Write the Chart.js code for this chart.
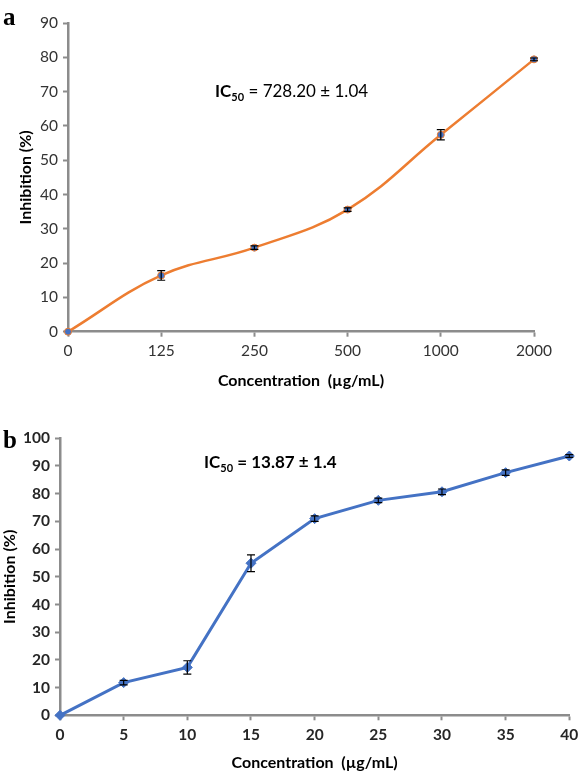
<!DOCTYPE html>
<html>
<head>
<meta charset="utf-8">
<script src="https://cdn.jsdelivr.net/npm/chart.js@4.4.1/dist/chart.umd.min.js"></script>
<style>
  html, body { margin: 0; padding: 0; background: #fff; }
  body { width: 584px; height: 774px; position: relative; overflow: hidden; }
  .box { position: absolute; left: 0; width: 584px; }
  .panel { position: absolute; font-family: "Liberation Serif", serif; font-weight: bold; font-size: 25px; color: #000; line-height: 1; }
  .ic50 { position: absolute; font-family: Lato, "Open Sans", sans-serif; font-size: 17px; color: #000; white-space: nowrap; line-height: 1; }
  .ic50 sub { font-size: 11px; vertical-align: -4px; }
</style>
</head>
<body>
<div class="box" style="top:0;height:395px"><canvas id="chartA"></canvas></div>
<div class="box" style="top:395px;height:379px"><canvas id="chartB"></canvas></div>
<div class="panel" style="left:3px;top:4px">a</div>
<div class="panel" style="left:3px;top:427px">b</div>
<div class="ic50" style="left:215px;top:82px"><b>IC<sub>50</sub></b> = 728.20 ± 1.04</div>
<div class="ic50" style="left:204px;top:453px;font-weight:bold">IC<sub>50</sub> = 13.87 ± 1.4</div>
<script>
// panel a
var concA = ['0', '125', '250', '500', '1000', '2000'];
var inhibA = [0, 16.4, 24.5, 35.6, 57.4, 79.4];
var errA = [0, 1.4, 0.5, 0.5, 1.5, 0.4];
var ticksA = [0, 10, 20, 30, 40, 50, 60, 70, 80, 90];

// panel b
var concB = [0, 5, 10, 15, 20, 25, 30, 35, 40];
var inhibB = [0, 11.8, 17.3, 54.9, 71.0, 77.6, 80.7, 87.6, 93.6];
var errB = [0, 0.8, 2.4, 3.0, 1.0, 0.8, 1.0, 1.0, 0.5];

var axisGrey = '#8c8c8c';

// error bars drawn through the scales
var errorBars = {
    id: 'errorBars',
    afterDatasetsDraw: function (chart) {
        var ctx = chart.ctx;
        var ys = chart.scales.y;
        chart.data.datasets.forEach(function (ds, di) {
            if (!ds.errors) return;
            var meta = chart.getDatasetMeta(di);
            ctx.save();
            ctx.strokeStyle = '#000';
            ctx.lineWidth = 1.2;
            meta.data.forEach(function (pt, i) {
                var e = ds.errors[i];
                if (!e) return;
                var v = typeof ds.data[i] === 'object' ? ds.data[i].y : ds.data[i];
                var top = ys.getPixelForValue(v + e);
                var bot = ys.getPixelForValue(v - e);
                ctx.beginPath();
                ctx.moveTo(pt.x, top); ctx.lineTo(pt.x, bot);
                ctx.moveTo(pt.x - 4, top); ctx.lineTo(pt.x + 4, top);
                ctx.moveTo(pt.x - 4, bot); ctx.lineTo(pt.x + 4, bot);
                ctx.stroke();
            });
            ctx.restore();
        });
    }
};

function axisGrid() {
    return { drawOnChartArea: false, drawTicks: true, tickLength: 5, tickColor: axisGrey, tickWidth: 2 };
}

new Chart(document.getElementById('chartA'), {
    type: 'line',
    data: {
        labels: concA,
        datasets: [{
            data: inhibA,
            errors: errA,
            borderColor: '#ED7D31',
            borderWidth: 2.5,
            tension: 0.4,
            pointRadius: 3.5,
            pointBackgroundColor: '#4472C4',
            pointBorderColor: '#ED7D31',
            pointBorderWidth: 1,
            clip: false
        }]
    },
    options: {
        responsive: true,
        maintainAspectRatio: false,
        animation: false,
        layout: { padding: { left: 0, right: 50, top: 23, bottom: 0 } },
        plugins: { legend: { display: false }, tooltip: { enabled: false } },
        scales: {
            x: {
                type: 'category',
                offset: false,
                grid: axisGrid(),
                border: { color: axisGrey, width: 2.5 },
                ticks: { color: '#333', font: { family: 'Lato', size: 15.5 }, padding: 5, maxRotation: 0, autoSkip: false },
                title: { display: true, text: 'Concentration  (µg/mL)', color: '#000', font: { family: 'Lato', size: 16, weight: 'bold' }, padding: { top: 0, bottom: 5 } },
                afterFit: function (s) { s.height = 63.3; }
            },
            y: {
                min: 0, max: 90,
                afterBuildTicks: function (s) { s.ticks = ticksA.map(function (v) { return { value: v }; }); },
                grid: axisGrid(),
                border: { color: axisGrey, width: 2.5 },
                ticks: { color: '#333', font: { family: 'Lato', size: 15.5 }, padding: 5 },
                title: { display: true, text: 'Inhibition (%)', color: '#000', font: { family: 'Lato', size: 16, weight: 'bold' }, padding: { top: 16, bottom: 0 } },
                afterFit: function (s) { s.width = 68; }
            }
        }
    },
    plugins: [errorBars]
});

new Chart(document.getElementById('chartB'), {
    type: 'line',
    data: {
        datasets: [{
            data: concB.map(function (c, i) { return { x: c, y: inhibB[i] }; }),
            errors: errB,
            borderColor: '#4472C4',
            borderWidth: 3,
            tension: 0,
            pointStyle: 'rectRot',
            pointRadius: 5,
            pointBackgroundColor: '#4472C4',
            pointBorderColor: '#4472C4',
            pointBorderWidth: 1,
            clip: false
        }]
    },
    options: {
        responsive: true,
        maintainAspectRatio: false,
        animation: false,
        layout: { padding: { left: 0, right: 14.7, top: 43.3, bottom: 0 } },
        plugins: { legend: { display: false }, tooltip: { enabled: false } },
        scales: {
            x: {
                type: 'linear',
                min: 0, max: 40,
                ticks: { stepSize: 5, color: '#262626', font: { family: 'Lato', size: 15.5, weight: 'bold' }, padding: 5, maxRotation: 0 },
                grid: axisGrid(),
                border: { color: axisGrey, width: 2.5 },
                title: { display: true, text: 'Concentration  (µg/mL)', color: '#000', font: { family: 'Lato', size: 16, weight: 'bold' }, padding: { top: 0, bottom: 1.4 } },
                afterFit: function (s) { s.height = 58.7; }
            },
            y: {
                min: 0, max: 100,
                ticks: { stepSize: 10, color: '#262626', font: { family: 'Lato', size: 15.5, weight: 'bold' }, padding: 5 },
                grid: axisGrid(),
                border: { color: axisGrey, width: 2.5 },
                title: { display: true, text: 'Inhibition (%)', color: '#000', font: { family: 'Lato', size: 16, weight: 'bold' }, padding: { top: 0.4, bottom: 0 } },
                afterFit: function (s) { s.width = 60; }
            }
        }
    },
    plugins: [errorBars]
});
</script>
</body>
</html>
